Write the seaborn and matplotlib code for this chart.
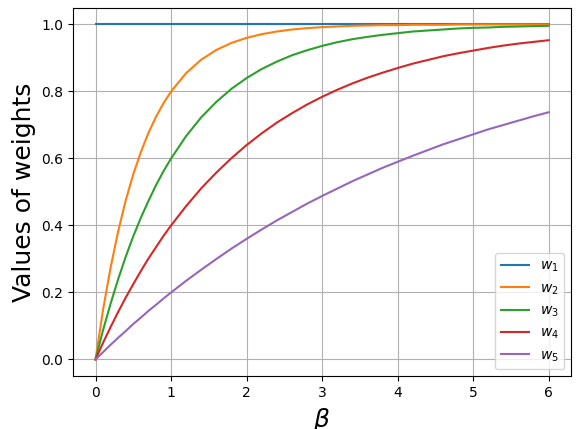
import matplotlib
matplotlib.use("Agg")
import matplotlib.pyplot as plt
import seaborn as sns
import pandas as pd

beta = [0, 0.1, 0.2, 0.3, 0.4, 0.5, 0.6, 0.7, 0.8, 0.9, 1.0, 1.2, 1.4, 1.6, 1.8,
        2.0, 2.2, 2.4, 2.6, 2.8, 3.0, 3.2, 3.4, 3.6, 3.8, 4.0, 4.2, 4.4, 4.6, 4.8,
        5.0, 5.2, 5.4, 5.6, 5.8, 6.0]

w1 = [1.0] * len(beta)
w2 = [0.0, 0.149, 0.275, 0.383, 0.475, 0.553, 0.619, 0.676, 0.724, 0.765, 0.800,
      0.855, 0.895, 0.924, 0.945, 0.960, 0.971, 0.979, 0.985, 0.989, 0.992, 0.994,
      0.996, 0.997, 0.998, 0.998, 0.999, 0.999, 0.999, 1.0, 1.0, 1.0, 1.0, 1.0, 1.0, 1.0]
w3 = [0.0, 0.088, 0.167, 0.240, 0.307, 0.368, 0.423, 0.473, 0.520, 0.562, 0.600,
      0.667, 0.723, 0.769, 0.808, 0.840, 0.867, 0.889, 0.908, 0.923, 0.936, 0.947,
      0.956, 0.963, 0.969, 0.974, 0.979, 0.982, 0.985, 0.988, 0.990, 0.991, 0.993,
      0.994, 0.995, 0.996]
w4 = [0.0, 0.050, 0.097, 0.142, 0.185, 0.225, 0.264, 0.301, 0.335, 0.369, 0.400,
      0.458, 0.511, 0.558, 0.601, 0.640, 0.675, 0.707, 0.735, 0.761, 0.784, 0.805,
      0.824, 0.841, 0.856, 0.870, 0.883, 0.894, 0.905, 0.914, 0.922, 0.930, 0.937,
      0.943, 0.948, 0.953]
w5 = [0.0, 0.022, 0.044, 0.065, 0.085, 0.106, 0.125, 0.145, 0.163, 0.182, 0.200,
      0.235, 0.268, 0.300, 0.331, 0.360, 0.388, 0.415, 0.440, 0.465, 0.488, 0.510,
      0.532, 0.552, 0.572, 0.590, 0.608, 0.625, 0.642, 0.657, 0.672, 0.687, 0.700,
      0.713, 0.726, 0.738]

labels = [r"$w_1$", r"$w_2$", r"$w_3$", r"$w_4$", r"$w_5$"]
series = [w1, w2, w3, w4, w5]

rows = []
for lab, vals in zip(labels, series):
    for b, v in zip(beta, vals):
        rows.append({"beta": b, "w": v, "series": lab})
df = pd.DataFrame(rows)

fig, ax = plt.subplots(figsize=(5.83, 4.29), dpi=100)
palette = sns.color_palette("tab10", 5)
sns.lineplot(data=df, x="beta", y="w", hue="series", palette=palette,
             hue_order=labels, ax=ax, linewidth=1.5)
ax.grid(True, color="#b0b0b0", linewidth=0.8)
ax.set_axisbelow(True)
ax.set_xlabel(r"$\beta$", fontsize=18)
ax.set_ylabel("Values of weights", fontsize=18)
ax.set_xticks([0, 1, 2, 3, 4, 5, 6])
ax.set_yticks([0.0, 0.2, 0.4, 0.6, 0.8, 1.0])
ax.legend(loc="lower right", title=None)
fig.subplots_adjust(left=0.125, right=0.98, bottom=0.123, top=0.982)
fig.savefig("out.png", dpi=100)
